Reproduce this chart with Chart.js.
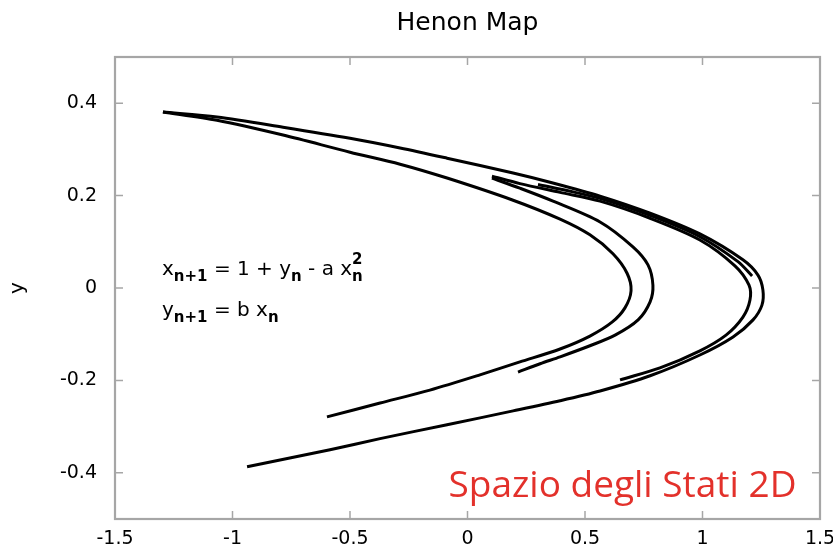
<!DOCTYPE html>
<html><head><meta charset="utf-8">
<script src="https://cdn.jsdelivr.net/npm/chart.js@4/dist/chart.umd.min.js"></script>
<style>html,body{margin:0;padding:0;background:#fff;}#wrap{width:833px;height:553px;position:relative;}</style>
</head><body><div id="wrap"><canvas id="c"></canvas></div>
<script>
const chartTitle = 'Henon Map';
const yAxisLabel = 'y';
const stampText = 'Spazio degli Stati 2D';
const xTickValues = [-1.5, -1, -0.5, 0, 0.5, 1, 1.5];
const xTickLabels = ['-1.5', '-1', '-0.5', '0', '0.5', '1', '1.5'];
const yTickValues = [-0.4, -0.2, 0, 0.2, 0.4];
const yTickLabels = ['-0.4', '-0.2', '0', '0.2', '0.4'];

// Strands of the attractor
const outerX = [-1.296, -1.066, -0.785, -0.500, -0.287, -0.087, 0.194, 0.351, 0.564, 0.777, 0.989, 1.172, 1.236, 1.257, 1.253, 1.215, 1.130, 0.989, 0.777, 0.564, 0.394, 0.194, -0.087, -0.372, -0.585, -0.938];
const outerY = [0.381, 0.370, 0.348, 0.324, 0.303, 0.281, 0.249, 0.229, 0.199, 0.162, 0.117, 0.061, 0.028, -0.004, -0.037, -0.069, -0.106, -0.145, -0.190, -0.223, -0.244, -0.266, -0.296, -0.326, -0.350, -0.387];
const bandX = [0.300, 0.450, 0.564, 0.777, 0.989, 1.151, 1.211];
const bandY = [0.224, 0.208, 0.194, 0.157, 0.111, 0.057, 0.026];
const secondX = [0.104, 0.223, 0.394, 0.564, 0.777, 0.989, 1.138, 1.198, 1.202, 1.172, 1.100, 0.989, 0.819, 0.649];
const secondY = [0.242, 0.226, 0.207, 0.188, 0.151, 0.104, 0.048, 0.006, -0.026, -0.063, -0.102, -0.136, -0.173, -0.199];
const middleX = [0.104, 0.223, 0.364, 0.564, 0.704, 0.768, 0.789, 0.777, 0.726, 0.628, 0.521, 0.394, 0.309, 0.215];
const middleY = [0.238, 0.216, 0.188, 0.143, 0.089, 0.050, 0.006, -0.030, -0.069, -0.102, -0.125, -0.149, -0.164, -0.182];
const innerX = [-1.296, -1.066, -0.785, -0.500, -0.287, -0.087, 0.194, 0.394, 0.521, 0.619, 0.679, 0.696, 0.670, 0.615, 0.521, 0.394, 0.223, 0.053, -0.160, -0.372, -0.598];
const innerY = [0.381, 0.363, 0.331, 0.294, 0.268, 0.238, 0.190, 0.149, 0.115, 0.074, 0.032, -0.006, -0.043, -0.074, -0.104, -0.132, -0.160, -0.188, -0.221, -0.249, -0.279];

// Equation text: [text, kind]; kind: m = main, s = subscript, ss = [superscript, subscript]
const eqLine1 = [['x', 'm'], ['n+1', 's'], [' = 1 + y', 'm'], ['n', 's'], [' - a x', 'm'], [['2', 'n'], 'ss']];
const eqLine2 = [['y', 'm'], ['n+1', 's'], [' = b x', 'm'], ['n', 's']];
const eqAnchorsX = [-1.30, -1.30];
const eqAnchorsY = [0.028, -0.061];
const stampAnchor = [1.40, -0.452];

const zip = (xs, ys) => xs.map((v, i) => ({x: v, y: ys[i]}));
const strands = [[outerX, outerY], [bandX, bandY], [secondX, secondY], [middleX, middleY], [innerX, innerY]];

const frameTicks = {
  id: 'frameTicks',
  beforeDatasetsDraw(chart) {
    const {ctx, chartArea: a, scales: {x, y}} = chart;
    ctx.save();
    ctx.strokeStyle = '#a6a6a6';
    ctx.lineWidth = 2.2;
    ctx.strokeRect(a.left, a.top, a.right - a.left, a.bottom - a.top);
    ctx.lineWidth = 1.5;
    const L = 8;
    ctx.beginPath();
    xTickValues.forEach(v => {
      const p = x.getPixelForValue(v);
      ctx.moveTo(p, a.bottom); ctx.lineTo(p, a.bottom - L);
      ctx.moveTo(p, a.top); ctx.lineTo(p, a.top + L);
    });
    yTickValues.forEach(v => {
      const p = y.getPixelForValue(v);
      ctx.moveTo(a.left, p); ctx.lineTo(a.left + L, p);
      ctx.moveTo(a.right, p); ctx.lineTo(a.right - L, p);
    });
    ctx.stroke();
    ctx.restore();
  }
};

const texts = {
  id: 'texts',
  afterDatasetsDraw(chart) {
    const {ctx, scales: {x, y}} = chart;
    ctx.save();
    ctx.fillStyle = '#000';
    ctx.textBaseline = 'alphabetic';
    ctx.textAlign = 'left';
    const mainFont = '20px "DejaVu Sans", sans-serif';
    const subFont = 'bold 15px "DejaVu Sans", sans-serif';
    [eqLine1, eqLine2].forEach((line, li) => {
      let px = x.getPixelForValue(eqAnchorsX[li]);
      const py = y.getPixelForValue(eqAnchorsY[li]);
      line.forEach(([t, k]) => {
        if (k === 'm') {
          ctx.font = mainFont; ctx.fillText(t, px, py); px += ctx.measureText(t).width;
        } else if (k === 's') {
          ctx.font = subFont; ctx.fillText(t, px, py + 6); px += ctx.measureText(t).width;
        } else {
          ctx.font = subFont;
          ctx.fillText(t[0], px, py - 11);
          ctx.fillText(t[1], px, py + 6);
          px += Math.max(ctx.measureText(t[0]).width, ctx.measureText(t[1]).width);
        }
      });
    });
    ctx.font = '37px "Open Sans", sans-serif';
    ctx.fillStyle = '#e3312b';
    ctx.textAlign = 'right';
    ctx.fillText(stampText, x.getPixelForValue(stampAnchor[0]), y.getPixelForValue(stampAnchor[1]));
    ctx.restore();
  }
};

new Chart(document.getElementById('c'), {
  type: 'scatter',
  data: {
    datasets: strands.map(([xs, ys]) => ({
      data: zip(xs, ys),
      showLine: true,
      borderColor: '#000',
      borderWidth: 3,
      pointRadius: 0,
      tension: 0.3,
      fill: false
    }))
  },
  options: {
    responsive: true,
    maintainAspectRatio: false,
    animation: false,
    events: [],
    layout: {padding: {left: 0, right: 13, top: 0, bottom: 0}},
    plugins: {
      legend: {display: false},
      tooltip: {enabled: false},
      title: {
        display: true, text: chartTitle, color: '#000', fullSize: false,
        font: {family: '"DejaVu Sans", sans-serif', size: 25, weight: 'normal'},
        padding: {top: 8, bottom: 19}
      }
    },
    scales: {
      x: {
        type: 'linear', min: -1.5, max: 1.5,
        grid: {display: false, drawTicks: false}, border: {display: false},
        afterBuildTicks: s => { s.ticks = xTickValues.map(v => ({value: v})); },
        afterFit: s => { s.height = 34; s.paddingLeft = 0; s.paddingRight = 0; },
        ticks: {
          color: '#000', padding: 9, maxRotation: 0, autoSkip: false,
          font: {family: '"DejaVu Sans", sans-serif', size: 19},
          callback: (v) => { const i = xTickValues.indexOf(v); return i >= 0 ? xTickLabels[i] : ''; }
        }
      },
      y: {
        type: 'linear', min: -0.5, max: 0.5,
        grid: {display: false, drawTicks: false}, border: {display: false},
        afterBuildTicks: s => { s.ticks = yTickValues.map(v => ({value: v})); },
        afterFit: s => { s.width = 115; s.paddingTop = 0; s.paddingBottom = 0; },
        title: {display: true, text: yAxisLabel, color: '#000', padding: {top: 6},
          font: {family: '"DejaVu Sans", sans-serif', size: 20}},
        ticks: {
          color: '#000', padding: 18, autoSkip: false,
          font: {family: '"DejaVu Sans", sans-serif', size: 19},
          callback: (v) => { const i = yTickValues.findIndex(t => Math.abs(t - v) < 1e-9); return i >= 0 ? yTickLabels[i] : ''; }
        }
      }
    }
  },
  plugins: [frameTicks, texts]
});
</script></body></html>
